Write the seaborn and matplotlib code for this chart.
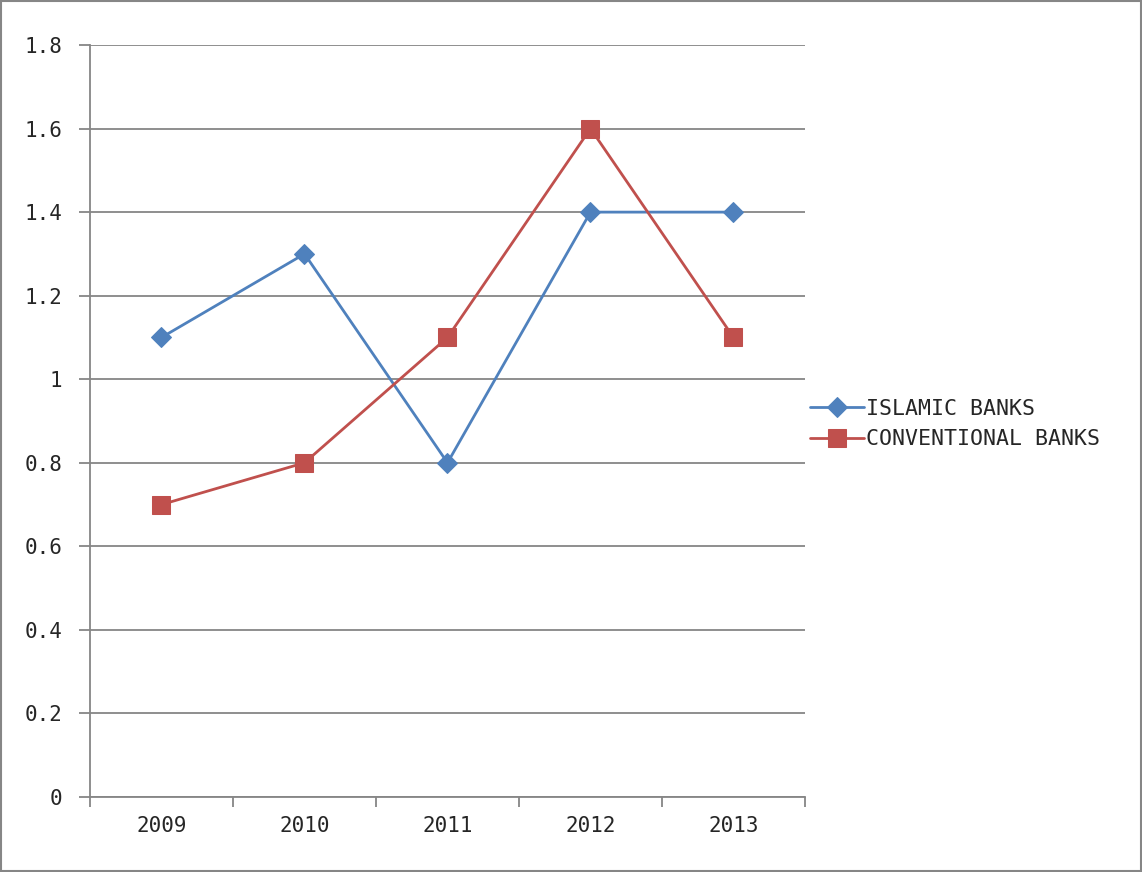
import matplotlib
matplotlib.use("Agg")
import matplotlib.pyplot as plt
import seaborn as sns
import pandas as pd
from matplotlib.patches import Rectangle

years = ["2009", "2010", "2011", "2012", "2013"]
islamic = [1.1, 1.3, 0.8, 1.4, 1.4]
conventional = [0.7, 0.8, 1.1, 1.6, 1.1]
series_names = ["ISLAMIC BANKS", "CONVENTIONAL BANKS"]
y_ticks = [0, 0.2, 0.4, 0.6, 0.8, 1.0, 1.2, 1.4, 1.6, 1.8]

sns.set_style("white")
plt.rcParams["font.family"] = ["DejaVu Sans Mono", "DejaVu Sans"]

fig = plt.figure(figsize=(11.42, 8.72), dpi=100)
ax = fig.add_axes([90/1142, 1-797/872, (805-90)/1142, (797-45)/872])

df = pd.DataFrame({"x": list(range(len(years))) * 2,
                   "value": islamic + conventional,
                   "series": [series_names[0]] * len(years) + [series_names[1]] * len(years)})

colors = {series_names[0]: "#4F81BD", series_names[1]: "#C0504D"}
markers = {series_names[0]: "D", series_names[1]: "s"}
sizes = {series_names[0]: 10, series_names[1]: 13}
for name in series_names:
    sub = df[df["series"] == name]
    sns.lineplot(data=sub, x="x", y="value", ax=ax, color=colors[name],
                 marker=markers[name], markersize=sizes[name], linewidth=2.0,
                 markeredgecolor=colors[name], label=name, legend=False, zorder=3)

ax.set_xlim(-0.5, len(years) - 0.5)
ax.set_ylim(0, 1.8)
ax.set_yticks(y_ticks)
ax.set_yticklabels([("%g" % v) for v in y_ticks], fontsize=15)
ax.yaxis.grid(True, color="#868686", linewidth=1.3)
ax.set_axisbelow(True)

ax.set_xticks([i - 0.5 for i in range(len(years) + 1)])
ax.set_xticklabels([""] * (len(years) + 1))
ax.set_xticks(list(range(len(years))), minor=True)
ax.set_xticklabels(years, minor=True, fontsize=15)
ax.tick_params(axis="x", which="major", direction="out", length=7, width=1.3, color="#868686", bottom=True)
ax.tick_params(axis="x", which="minor", length=0, pad=14)
ax.tick_params(axis="y", direction="out", length=8, width=1.3, color="#868686", left=True, pad=12)

for s in ["top", "right"]:
    ax.spines[s].set_visible(False)
for s in ["left", "bottom"]:
    ax.spines[s].set_color("#868686")
    ax.spines[s].set_linewidth(1.3)
ax.set_xlabel("")
ax.set_ylabel("")

handles, labels = ax.get_legend_handles_labels()
fig.legend(handles, labels, loc="center left", bbox_to_anchor=(810/1142, 1-424/872),
           frameon=False, fontsize=15.5, handlelength=2.5, handletextpad=0.1,
           labelspacing=0.5, borderaxespad=0, borderpad=0)

fig.patches.append(Rectangle((0.001, 0.001), 0.998, 0.998, transform=fig.transFigure,
                             fill=False, edgecolor="#868686", linewidth=1.5))

fig.savefig("out.png", dpi=100)
